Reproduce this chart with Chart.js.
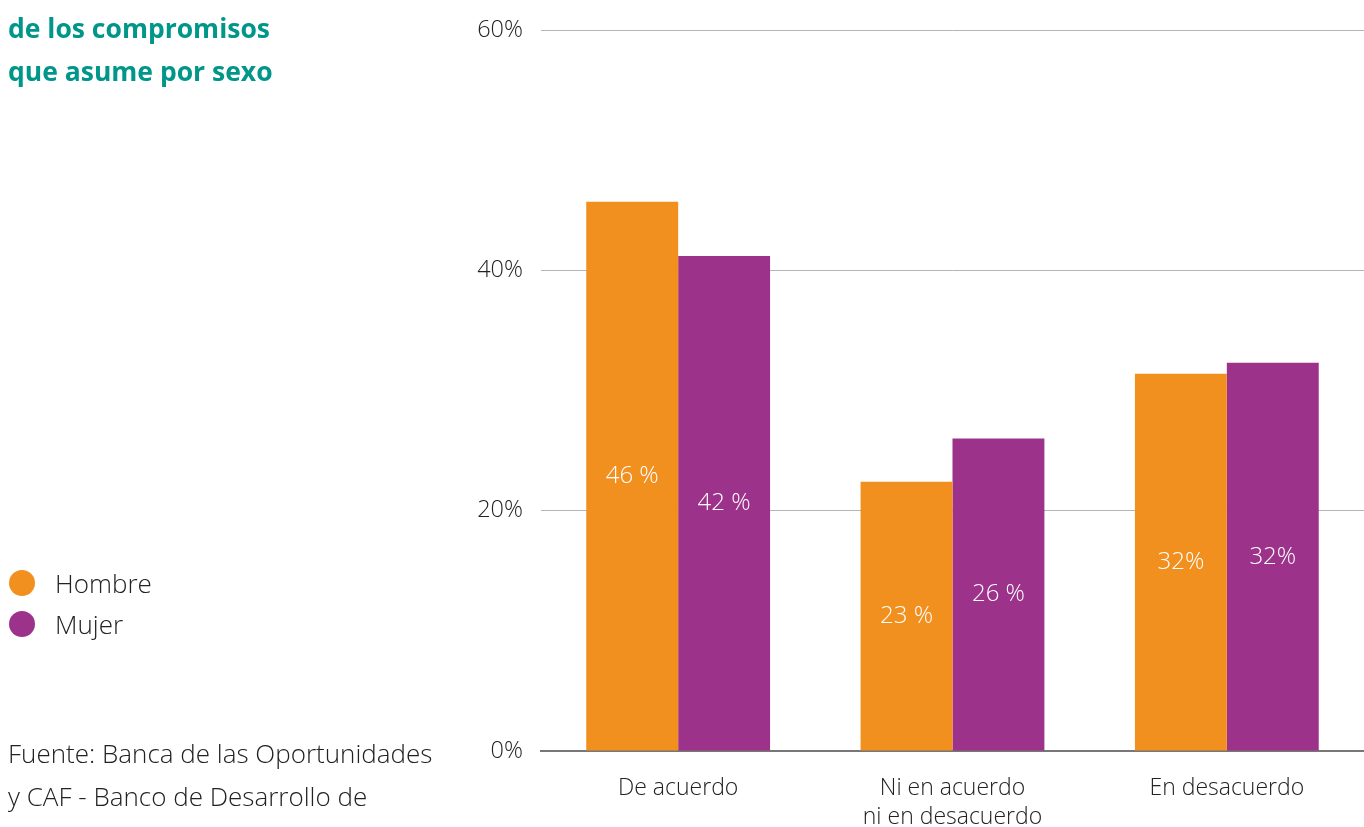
<!DOCTYPE html>
<html>
<head>
<meta charset="utf-8">
<script src="https://cdn.jsdelivr.net/npm/chart.js@4/dist/chart.umd.min.js"></script>
<style>
  html, body { margin: 0; padding: 0; background: #fff; }
  body { width: 1364px; height: 827px; position: relative; overflow: hidden; font-family: "Open Sans", sans-serif; }
  #wrap { position: absolute; left: 0; top: 0; width: 1364px; height: 827px; }
  .titulo { position: absolute; left: 8px; top: 7px; color: #00968a; font-weight: 700; font-size: 26.5px; line-height: 43px; }
  .leyenda { position: absolute; left: 9px; top: 562px; font-size: 26px; font-weight: 300; color: #222; }
  .leyenda div { height: 41px; display: flex; align-items: center; }
  .leyenda span.dot { width: 26px; height: 26px; border-radius: 50%; display: inline-block; margin-right: 20px; }
  .fuente { position: absolute; left: 8px; top: 732px; font-size: 26px; font-weight: 300; color: #222; line-height: 43px; }
</style>
</head>
<body>
<div id="wrap"><canvas id="grafica"></canvas></div>
<div class="titulo">de los compromisos<br>que asume por sexo</div>
<div class="leyenda" id="leyenda"></div>
<div class="fuente">Fuente: Banca de las Oportunidades<br>y CAF - Banco de Desarrollo de</div>
<script>
const categorias = ["De acuerdo", ["Ni en acuerdo", "ni en desacuerdo"], "En desacuerdo"];
const hombre = [45.7, 22.4, 31.4];
const mujer = [41.2, 26.0, 32.3];
const etiquetasHombre = ["46 %", "23 %", "32%"];
const etiquetasMujer = ["42 %", "26 %", "32%"];
const ticksY = [0, 20, 40, 60];

const naranja = '#f18f1f';
const morado = '#9c328a';

// leyenda en html
document.getElementById("leyenda").innerHTML =
  '<div><span class="dot" style="background:' + naranja + '"></span>Hombre</div>' +
  '<div><span class="dot" style="background:' + morado + '"></span>Mujer</div>';

const etiquetasBarras = {
  id: 'etiquetasBarras',
  afterDatasetsDraw(chart) {
    const ctx = chart.ctx;
    const textos = [etiquetasHombre, etiquetasMujer];
    ctx.save();
    ctx.fillStyle = '#fff';
    ctx.font = '300 24px "Open Sans"';
    ctx.textAlign = 'center';
    ctx.textBaseline = 'middle';
    chart.data.datasets.forEach((ds, i) => {
      chart.getDatasetMeta(i).data.forEach((bar, j) => {
        ctx.fillText(textos[i][j], bar.x, (bar.y + bar.base) / 2);
      });
    });
    ctx.restore();
  }
};

new Chart(document.getElementById("grafica"), {
  type: 'bar',
  data: {
    labels: categorias,
    datasets: [
      { label: 'Hombre', data: hombre, backgroundColor: naranja },
      { label: 'Mujer', data: mujer, backgroundColor: morado }
    ]
  },
  options: {
    responsive: true,
    maintainAspectRatio: false,
    animation: false,
    layout: { padding: { top: 30, right: 0, left: 0, bottom: 0 } },
    datasets: { bar: { categoryPercentage: 0.67, barPercentage: 1 } },
    plugins: { legend: { display: false }, tooltip: { enabled: false } },
    scales: {
      x: {
        afterFit: s => { s.height = 76; },
        grid: { display: false },
        border: { color: '#777', width: 2 },
        ticks: { color: '#222', font: { family: 'Open Sans', size: 23, weight: 300, lineHeight: 1.25 }, padding: 15, maxRotation: 0 }
      },
      y: {
        min: 0, max: 60,
        afterBuildTicks: s => { s.ticks = ticksY.map(v => ({ value: v })); },
        afterFit: s => { s.width = 541; },
        grid: { color: '#b5b5b5', lineWidth: 1, drawTicks: false },
        border: { display: false },
        ticks: { color: '#222', font: { family: 'Open Sans', size: 23.5, weight: 300, lineHeight: 1 }, padding: 18, callback: v => v + '%' }
      }
    }
  },
  plugins: [etiquetasBarras]
});
</script>
</body>
</html>
